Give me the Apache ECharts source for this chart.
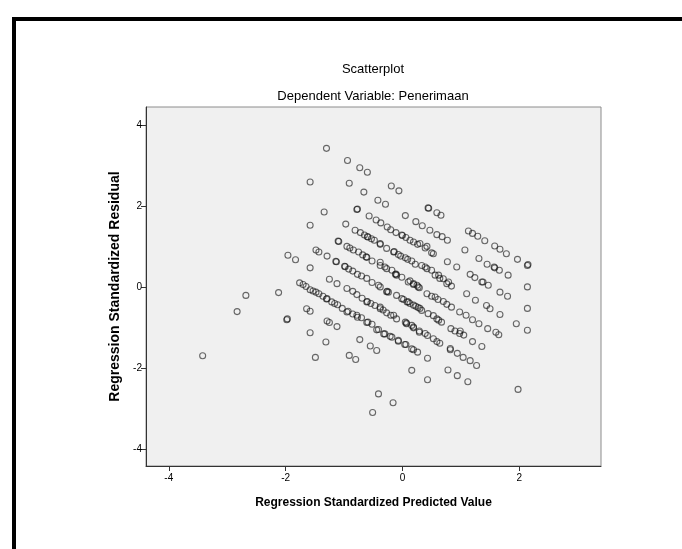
<!DOCTYPE html>
<html><head><meta charset="utf-8">
<script src="https://cdn.jsdelivr.net/npm/echarts@6/dist/echarts.min.js"></script>
<style>html,body{margin:0;padding:0;background:#fff}#c{width:682px;height:549px}</style>
</head><body><div id="c"></div>
<script>
const titleText = 'Scatterplot';
const subtitleText = 'Dependent Variable: Penerimaan';
const xName = 'Regression Standardized Predicted Value';
const yName = 'Regression Standardized Residual';
const xTicks = [-4, -2, 0, 2];
const yTicks = [-4, -2, 0, 2, 4];

const outliers = [
[-3.42,-1.69],[-2.83,-0.60],[-2.68,-0.20],[-2.12,-0.13],[-1.98,-0.80],[-1.97,-0.78],
[-1.30,3.43],[-1.58,2.60],[-1.34,1.86],[-1.58,1.53],[-0.94,3.13],[-0.73,2.95],[-0.60,2.84],
[-0.91,2.57],[-0.66,2.35],[-0.19,2.50],[-0.06,2.38],[-0.42,2.15],[-0.29,2.05],
[1.98,-2.52],[-0.41,-2.63],[-0.16,-2.85],[-0.51,-3.09],[0.43,-2.28],[0.16,-2.05],
[0.78,-2.04],[0.94,-2.18],[1.12,-2.33],[-1.49,-1.73],[-0.91,-1.68],[-0.80,-1.78],[0.43,-1.75]
];
const upperStripes = [
[-1.10,1.14],[-1.96,0.79],[-1.83,0.68],[-1.48,0.92],[-1.43,0.87],[-1.29,0.77],[-1.14,0.64],[-1.58,0.48],
[-0.78,1.92],[-0.77,1.93],[-0.57,1.76],[-0.45,1.66],[-0.37,1.59],[-0.26,1.49],[0.05,1.77],
[0.44,1.96],[0.45,1.95],[0.59,1.84],[0.66,1.78],[0.23,1.62],[0.34,1.52],
[-0.97,1.56],[-0.81,1.41],[-0.72,1.35],[-0.60,1.25],[-0.48,1.16],[-0.38,1.06],[-0.59,1.24],
[-0.65,1.29],[-0.53,1.20],
[-0.11,1.35],[-0.01,1.29],[0.06,1.23],[0.13,1.16],[0.26,1.06],[0.39,0.97],[0.50,0.85],[0.00,1.28],
[-0.20,1.42],[0.19,1.12],[0.30,1.08],[0.42,1.01],[0.53,0.83],
[0.47,1.41],[0.59,1.30],[0.68,1.25],[0.77,1.16],
[1.13,1.39],[1.20,1.33],[1.29,1.26],[1.41,1.15],
[1.58,1.02],[1.67,0.94],[1.78,0.83],[1.97,0.69],[2.14,0.54],[2.15,0.56],
[-1.09,1.13],[-0.95,1.01],[-0.84,0.92],[-0.75,0.87],[-0.61,0.74],[-0.52,0.65],[-0.62,0.75],
[-0.90,0.97],[-0.68,0.80],
[-0.27,0.96],[-0.15,0.87],[-0.03,0.77],[0.09,0.69],[0.22,0.57],[0.39,0.50],[0.50,0.42],[-0.14,0.88],
[-0.38,1.08],[-0.07,0.81],[0.05,0.73],[0.16,0.65],[0.33,0.54],[0.42,0.46],[0.70,0.21],
[1.07,0.92],[0.77,0.63],[0.93,0.50],
[1.31,0.71],[1.45,0.57],[1.57,0.50],[1.66,0.42],[1.81,0.30],[1.58,0.48]
];
const middleStripes = [
[1.16,0.32],[1.24,0.24],[1.38,0.13],[1.47,0.05],[1.36,0.13],
[0.56,0.30],[0.64,0.22],[0.76,0.09],[0.84,0.03],[0.62,0.30],[0.79,0.13],
[-1.13,0.63],[-0.99,0.52],[-0.92,0.45],[-0.77,0.32],[-0.61,0.22],[-0.52,0.12],[-0.41,0.05],[-0.98,0.51],
[-0.85,0.40],[-0.70,0.28],
[-0.38,0.54],[-0.27,0.46],[-0.12,0.32],[-0.01,0.25],[0.13,0.16],[0.25,0.05],[-0.11,0.33],
[-0.38,0.62],[-0.30,0.50],[-0.18,0.42],[-0.10,0.30],[0.27,0.01],
[0.10,0.13],[0.19,0.07],[0.29,-0.01],[0.19,0.09],
[2.14,0.01],[1.67,-0.12],[1.80,-0.22],[1.10,-0.16],[1.25,-0.32],
[-1.25,0.20],[-1.12,0.09],[-0.95,-0.03],[-0.78,-0.18],[-0.60,-0.35],[-0.47,-0.45],[-0.38,-0.49],
[-0.85,-0.10],[-0.69,-0.27],[-0.54,-0.40],[-0.33,-0.56],[-0.20,-0.69],
[-0.27,-0.63],[-0.10,-0.78],[0.07,-0.88],[0.19,-0.98],[0.29,-1.08],[0.43,-1.19],[-0.61,-0.36],
[-1.76,0.11],[-1.65,0.02],[-1.58,-0.06],[-1.48,-0.12],[-1.43,-0.16],[-1.29,-0.28],[-1.21,-0.36],
[-1.70,0.07],[-1.53,-0.09],[-1.36,-0.22],[-1.16,-0.40],
[-1.11,-0.43],[-0.95,-0.61],[-0.78,-0.69],[-0.70,-0.75],[-0.59,-0.86],[-1.30,-0.29],
[-1.03,-0.52],[-0.85,-0.66],[-0.52,-0.91],
[-0.93,-0.59],[-0.77,-0.74],[-0.61,-0.87],
[-0.24,-0.12],[-0.10,-0.20],[-0.01,-0.28],[0.10,-0.36],[0.23,-0.47],[0.33,-0.57],[0.44,-0.65],
[0.59,-0.78],[0.67,-0.86],[-0.26,-0.10],[0.02,-0.30],[0.13,-0.40],[0.27,-0.50],
[-0.38,0.01],[-0.27,-0.11],[0.08,-0.36],[0.19,-0.44],[0.30,-0.52],[0.53,-0.70],[0.62,-0.81],
[0.42,-0.16],[0.50,-0.22],[0.61,-0.30],[0.76,-0.42],[0.84,-0.49],[0.56,-0.24],[0.70,-0.35]
];
const lowerStripes = [
[-1.64,-0.53],[-1.58,-0.59],[-1.58,-1.12],[-1.29,-0.83],[-1.25,-0.87],[-1.12,-0.97],[-1.31,-1.35],
[1.44,-0.45],[1.50,-0.53],[2.14,-0.52],[2.14,-1.06],[1.95,-0.90],[1.67,-0.67],[1.60,-1.11],[1.65,-1.17],
[1.31,-0.90],[1.46,-1.02],[1.20,-1.34],[1.36,-1.46],
[0.98,-0.61],[1.09,-0.69],[1.20,-0.80],
[0.83,-1.02],[0.90,-1.08],[0.98,-1.14],[1.05,-1.18],[0.99,-1.08],
[0.82,-1.54],[0.94,-1.63],[1.04,-1.73],[1.16,-1.81],[1.27,-1.93],
[0.59,-1.34],[0.64,-1.38],[0.82,-1.51],
[-0.73,-1.29],[-0.55,-1.45],[-0.44,-1.56],
[-0.41,-1.04],[-0.30,-1.15],[-0.18,-1.23],[-0.07,-1.33],[0.04,-1.41],[0.16,-1.52],[0.26,-1.60],
[-0.44,-1.05],[-0.32,-1.15],[-0.21,-1.21],[-0.07,-1.31],[0.06,-1.41],[0.19,-1.54],
[0.07,-0.90],[0.19,-1.00],[0.29,-1.11],
[-0.38,-0.53],[-0.15,-0.69],[0.05,-0.86],[0.16,-0.94],[0.39,-1.14],[0.53,-1.27]
];

const allPoints = outliers.concat(upperStripes, middleStripes, lowerStripes);

const NARROW = '"Liberation Sans Narrow","Arial Narrow","Liberation Sans",Arial,sans-serif';
const REG = '"Liberation Sans",Arial,sans-serif';

const chart = echarts.init(document.getElementById('c'), null, {renderer: 'canvas'});
chart.setOption({
  animation: false,
  backgroundColor: '#ffffff',
  grid: {left: 146, top: 107, width: 455, height: 359, show: true,
         backgroundColor: '#f0f0f0', borderColor: '#8c8c8c', borderWidth: 1},
  xAxis: {
    type: 'value', min: -4.39, max: 3.40,
    name: xName, nameLocation: 'middle', nameGap: 31,
    nameTextStyle: {fontFamily: NARROW, fontWeight: 'bold', fontSize: 12, color: '#000'},
    axisLine: {show: true, onZero: false, lineStyle: {color: '#333', width: 1}},
    axisTick: {show: true, customValues: xTicks, length: 5, lineStyle: {color: '#333'}},
    axisLabel: {customValues: xTicks, fontFamily: NARROW, fontSize: 10, color: '#000', margin: 7},
    splitLine: {show: false}
  },
  yAxis: {
    type: 'value', min: -4.41, max: 4.45,
    name: yName, nameLocation: 'middle', nameGap: 20,
    nameTextStyle: {fontFamily: REG, fontWeight: 'bold', fontSize: 14, color: '#000'},
    axisLine: {show: true, onZero: false, lineStyle: {color: '#333', width: 1}},
    axisTick: {show: true, customValues: yTicks, length: 5, lineStyle: {color: '#333'}},
    axisLabel: {customValues: yTicks, fontFamily: NARROW, fontSize: 10, color: '#000', margin: 4},
    splitLine: {show: false}
  },
  series: [{
    type: 'scatter', data: allPoints, symbol: 'circle', symbolSize: 6, silent: true,
    itemStyle: {color: 'rgba(0,0,0,0)', borderColor: 'rgba(20,20,20,0.78)', borderWidth: 1.1}
  }],
  graphic: [
    {type: 'rect', shape: {x: 14, y: 19, width: 720, height: 580},
     style: {fill: 'none', stroke: '#000', lineWidth: 4}, silent: true},
    {type: 'text', x: 373, y: 69,
     style: {text: titleText, align: 'center', verticalAlign: 'middle', fontFamily: NARROW, fontSize: 13, fill: '#000'}},
    {type: 'text', x: 373, y: 96,
     style: {text: subtitleText, align: 'center', verticalAlign: 'middle', fontFamily: NARROW, fontSize: 13, fill: '#000'}}
  ]
});
</script></body></html>
